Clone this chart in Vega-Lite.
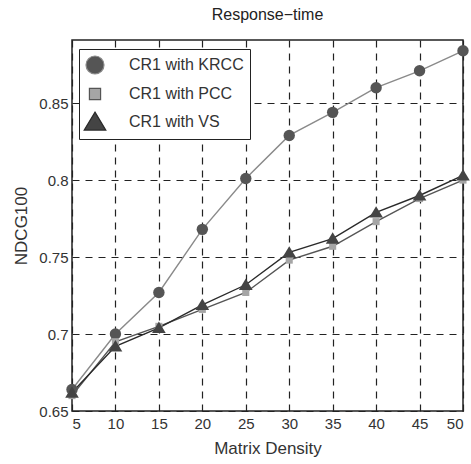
{
  "$schema": "https://vega.github.io/schema/vega-lite/v6.json",
  "autosize": {"type": "none"},
  "width": 391,
  "height": 371,
  "padding": {"left": 72, "top": 40, "right": 8, "bottom": 53},
  "background": "white",
  "title": {"text": "Response−time", "font": "Liberation Sans", "fontSize": 16, "fontWeight": "normal", "color": "#222", "offset": 17, "anchor": "middle"},
  "config": {
    "view": {"stroke": "#222", "strokeWidth": 1.5},
    "axis": {"labelFont": "Liberation Sans", "labelFontSize": 15, "labelColor": "#333", "titleFont": "Liberation Sans", "titleFontSize": 17, "titleFontWeight": "normal", "titleColor": "#333", "grid": true, "gridColor": "#222", "gridDash": [7, 6], "gridWidth": 1.2, "gridOpacity": 1, "domain": false, "ticks": false},
    "legend": {"orient": "none", "legendX": 7, "legendY": 9, "fillColor": "white", "strokeColor": "#222", "padding": 6, "rowPadding": 7, "symbolSize": 324, "labelFont": "Liberation Sans", "labelFontSize": 16, "labelColor": "#333", "labelOffset": 24}
  },
  "data": {"values": [
    {"x": 5, "y": 0.664, "s": "CR1 with KRCC"},
    {"x": 10, "y": 0.700, "s": "CR1 with KRCC"},
    {"x": 15, "y": 0.727, "s": "CR1 with KRCC"},
    {"x": 20, "y": 0.768, "s": "CR1 with KRCC"},
    {"x": 25, "y": 0.801, "s": "CR1 with KRCC"},
    {"x": 30, "y": 0.829, "s": "CR1 with KRCC"},
    {"x": 35, "y": 0.844, "s": "CR1 with KRCC"},
    {"x": 40, "y": 0.860, "s": "CR1 with KRCC"},
    {"x": 45, "y": 0.871, "s": "CR1 with KRCC"},
    {"x": 50, "y": 0.884, "s": "CR1 with KRCC"},
    {"x": 5, "y": 0.660, "s": "CR1 with PCC"},
    {"x": 10, "y": 0.695, "s": "CR1 with PCC"},
    {"x": 15, "y": 0.705, "s": "CR1 with PCC"},
    {"x": 20, "y": 0.716, "s": "CR1 with PCC"},
    {"x": 25, "y": 0.727, "s": "CR1 with PCC"},
    {"x": 30, "y": 0.748, "s": "CR1 with PCC"},
    {"x": 35, "y": 0.757, "s": "CR1 with PCC"},
    {"x": 40, "y": 0.773, "s": "CR1 with PCC"},
    {"x": 45, "y": 0.788, "s": "CR1 with PCC"},
    {"x": 50, "y": 0.800, "s": "CR1 with PCC"},
    {"x": 5, "y": 0.662, "s": "CR1 with VS"},
    {"x": 10, "y": 0.692, "s": "CR1 with VS"},
    {"x": 15, "y": 0.704, "s": "CR1 with VS"},
    {"x": 20, "y": 0.719, "s": "CR1 with VS"},
    {"x": 25, "y": 0.732, "s": "CR1 with VS"},
    {"x": 30, "y": 0.753, "s": "CR1 with VS"},
    {"x": 35, "y": 0.762, "s": "CR1 with VS"},
    {"x": 40, "y": 0.779, "s": "CR1 with VS"},
    {"x": 45, "y": 0.790, "s": "CR1 with VS"},
    {"x": 50, "y": 0.803, "s": "CR1 with VS"}
  ]},
  "encoding": {
    "x": {"field": "x", "type": "quantitative", "scale": {"domain": [5, 50], "nice": false}, "axis": {"values": [5, 10, 15, 20, 25, 30, 35, 40, 45, 50], "title": "Matrix Density", "labelPadding": 5, "titlePadding": 9}},
    "y": {"field": "y", "type": "quantitative", "scale": {"domain": [0.65, 0.891], "nice": false, "zero": false}, "axis": {"values": [0.65, 0.7, 0.75, 0.8, 0.85], "format": ".2~f", "title": "NDCG100", "labelPadding": 4, "titlePadding": 8}}
  },
  "layer": [
    {
      "mark": {"type": "line", "strokeWidth": 1.4},
      "encoding": {
        "stroke": {"field": "s", "type": "nominal", "scale": {"domain": ["CR1 with KRCC", "CR1 with PCC", "CR1 with VS"], "range": ["#8a8a8a", "#555555", "#2a2a2a"]},
          "legend": {"title": null, "encode": {"symbols": {"enter": {"shape": {"signal": "datum.value === 'CR1 with KRCC' ? 'M-0.89,0H0.22M1.56,0H2.67M1.56,0A0.67,0.67,0,1,1,0.22,0A0.67,0.67,0,1,1,1.56,0Z' : datum.value === 'CR1 with PCC' ? 'M-0.89,0H0.39M1.39,0H2.67M0.39,-0.5H1.39V0.5H0.39Z' : 'M-0.89,0H0.43M1.35,0H2.67M0.89,-0.75L1.69,0.55H0.09Z'"}}, "update": {
              "shape": {"signal": "datum.value === 'CR1 with KRCC' ? 'M-0.89,0H0.22M1.56,0H2.67M1.56,0A0.67,0.67,0,1,1,0.22,0A0.67,0.67,0,1,1,1.56,0Z' : datum.value === 'CR1 with PCC' ? 'M-0.89,0H0.39M1.39,0H2.67M0.39,-0.5H1.39V0.5H0.39Z' : 'M-0.89,0H0.43M1.35,0H2.67M0.89,-0.75L1.69,0.55H0.09Z'"},
              "stroke": {"value": "#222"},
              "strokeWidth": {"value": 1.2},
              "size": {"value": 324}
            }}}}}
      }
    },
    {
      "mark": {"type": "point", "filled": true, "opacity": 1, "size": 130},
      "encoding": {
        "fill": {"field": "s", "type": "nominal", "scale": {"domain": ["CR1 with KRCC", "CR1 with PCC", "CR1 with VS"], "range": ["#555555", "#a5a5a5", "#444444"]},
          "legend": {"title": null, "encode": {"symbols": {"enter": {"shape": {"signal": "datum.value === 'CR1 with KRCC' ? 'M-0.89,0H0.22M1.56,0H2.67M1.56,0A0.67,0.67,0,1,1,0.22,0A0.67,0.67,0,1,1,1.56,0Z' : datum.value === 'CR1 with PCC' ? 'M-0.89,0H0.39M1.39,0H2.67M0.39,-0.5H1.39V0.5H0.39Z' : 'M-0.89,0H0.43M1.35,0H2.67M0.89,-0.75L1.69,0.55H0.09Z'"}}, "update": {
              "shape": {"signal": "datum.value === 'CR1 with KRCC' ? 'M-0.89,0H0.22M1.56,0H2.67M1.56,0A0.67,0.67,0,1,1,0.22,0A0.67,0.67,0,1,1,1.56,0Z' : datum.value === 'CR1 with PCC' ? 'M-0.89,0H0.39M1.39,0H2.67M0.39,-0.5H1.39V0.5H0.39Z' : 'M-0.89,0H0.43M1.35,0H2.67M0.89,-0.75L1.69,0.55H0.09Z'"},
              "stroke": {"value": "#222"},
              "strokeWidth": {"value": 1.2},
              "size": {"value": 324}
            }}}}},
        "shape": {"field": "s", "type": "nominal", "scale": {"domain": ["CR1 with KRCC", "CR1 with PCC", "CR1 with VS"], "range": ["circle", "M-0.62,-0.62H0.62V0.62H-0.62Z", "M0,-1.1L1.2,0.9H-1.2Z"]},
          "legend": {"title": null, "encode": {"symbols": {"enter": {"shape": {"signal": "datum.value === 'CR1 with KRCC' ? 'M-0.89,0H0.22M1.56,0H2.67M1.56,0A0.67,0.67,0,1,1,0.22,0A0.67,0.67,0,1,1,1.56,0Z' : datum.value === 'CR1 with PCC' ? 'M-0.89,0H0.39M1.39,0H2.67M0.39,-0.5H1.39V0.5H0.39Z' : 'M-0.89,0H0.43M1.35,0H2.67M0.89,-0.75L1.69,0.55H0.09Z'"}}, "update": {
              "shape": {"signal": "datum.value === 'CR1 with KRCC' ? 'M-0.89,0H0.22M1.56,0H2.67M1.56,0A0.67,0.67,0,1,1,0.22,0A0.67,0.67,0,1,1,1.56,0Z' : datum.value === 'CR1 with PCC' ? 'M-0.89,0H0.39M1.39,0H2.67M0.39,-0.5H1.39V0.5H0.39Z' : 'M-0.89,0H0.43M1.35,0H2.67M0.89,-0.75L1.69,0.55H0.09Z'"},
              "stroke": {"value": "#222"},
              "strokeWidth": {"value": 1.2},
              "size": {"value": 324}
            }}}}}
      }
    }
  ]
}
